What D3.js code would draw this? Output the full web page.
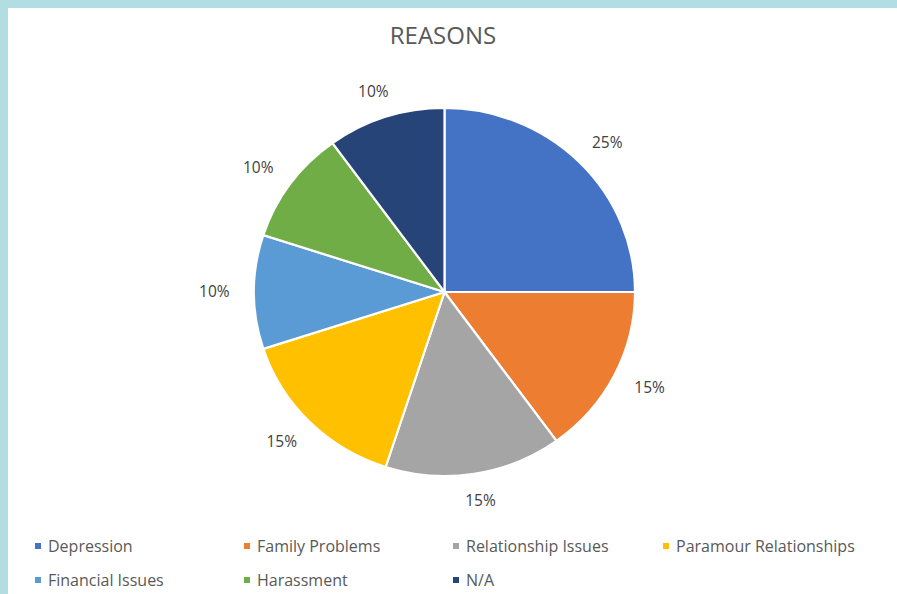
<!DOCTYPE html>
<html>
<head>
<meta charset="utf-8">
<script src="https://cdn.jsdelivr.net/npm/d3@7"></script>
<style>
  html, body { margin: 0; padding: 0; background: #ffffff; }
  svg { display: block; }
</style>
</head>
<body>
<script>
// Reasons breakdown (percent of responses)
const categories = ["Depression", "Family Problems", "Relationship Issues", "Paramour Relationships", "Financial Issues", "Harassment", "N/A"];
const values = [25, 15, 15, 15, 10, 10, 10];
const colors = ["#4472C4", "#ED7D31", "#A5A5A5", "#FFC000", "#5B9BD5", "#70AD47", "#264478"];
const title = "REASONS";

const W = 897, H = 594;
const svg = d3.select("body").append("svg").attr("width", W).attr("height", H);

// frame
svg.append("rect").attr("x", 0).attr("y", 0).attr("width", W).attr("height", H).attr("fill", "#b1dde3");
svg.append("rect").attr("x", 8).attr("y", 8).attr("width", W - 8).attr("height", H - 8).attr("fill", "#ffffff");

// title
svg.append("text")
  .attr("x", 443).attr("y", 44)
  .attr("text-anchor", "middle")
  .attr("font-family", "'Open Sans', sans-serif")
  .attr("font-size", 24)
  .attr("fill", "#595959")
  .text(title);

// pie
const cx = 444.5, cy = 292, ry = 184, rx = 190.5;
const sx = rx / ry;
const data = categories.map((c, i) => ({ name: c, value: values[i], color: colors[i] }));
const pie = d3.pie().value(d => d.value).sort(null);
const arcs = pie(data);
const arc = d3.arc().innerRadius(0).outerRadius(ry);

const g = svg.append("g").attr("transform", `translate(${cx},${cy}) scale(${sx},1)`);
g.selectAll("path").data(arcs).join("path")
  .attr("d", arc)
  .attr("fill", d => d.data.color)
  .attr("stroke", "#ffffff")
  .attr("stroke-width", 2.2)
  .attr("vector-effect", "non-scaling-stroke");

// value labels outside each slice
const fmt = d3.format(".0%");
const total = d3.sum(values);
const labR = 204, halfW = 19, halfH = 7;
const lg = svg.append("g").attr("transform", `translate(${cx},${cy})`);
lg.selectAll("text").data(arcs).join("text")
  .attr("x", d => { const a = (d.startAngle + d.endAngle) / 2; return sx * labR * Math.sin(a) + halfW * Math.sin(a); })
  .attr("y", d => { const a = (d.startAngle + d.endAngle) / 2; return -labR * Math.cos(a) - halfH * Math.cos(a); })
  .attr("dy", "0.35em")
  .attr("text-anchor", "middle")
  .attr("font-family", "'Open Sans', sans-serif")
  .attr("font-size", 15.5)
  .attr("fill", "#404040")
  .text(d => fmt(d.data.value / total));

// legend
const colX = [35, 244, 453, 663];
const rowY = [546, 580];
const leg = svg.append("g");
const items = leg.selectAll("g").data(data).join("g")
  .attr("transform", (d, i) => `translate(${colX[i % 4]},${rowY[Math.floor(i / 4)]})`);
items.append("rect").attr("x", 0).attr("y", -3).attr("width", 6).attr("height", 6).attr("fill", d => d.color);
items.append("text")
  .attr("x", 13).attr("y", 0).attr("dy", "0.35em")
  .attr("font-family", "'Open Sans', sans-serif")
  .attr("font-size", 16)
  .attr("fill", "#595959")
  .text(d => d.name);
</script>
</body>
</html>
